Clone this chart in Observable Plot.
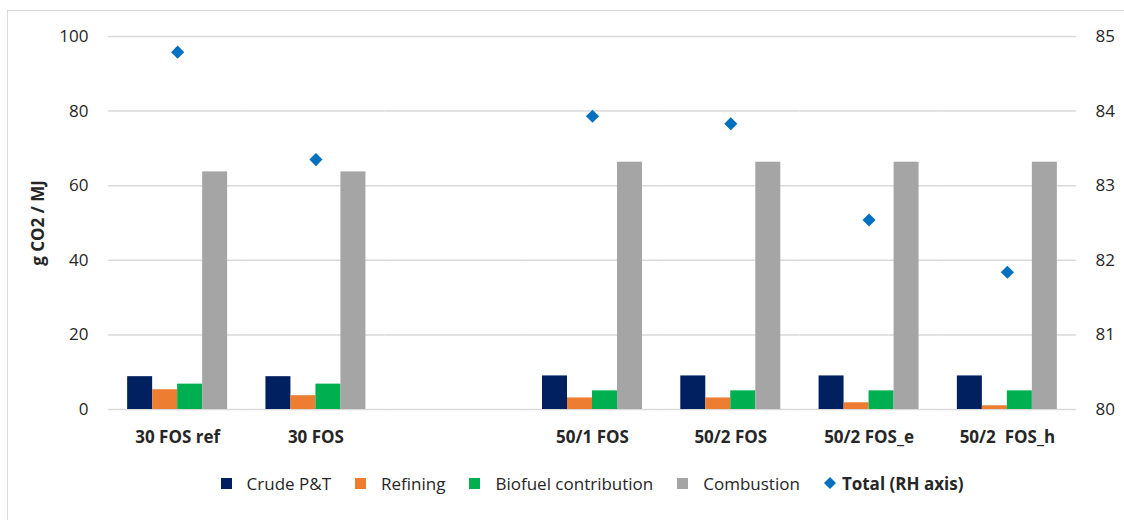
<!DOCTYPE html>
<html>
<head>
<meta charset="utf-8">
<script src="https://cdn.jsdelivr.net/npm/d3@7"></script>
<script src="https://cdn.jsdelivr.net/npm/@observablehq/plot@0.6"></script>
<style>
  body { margin: 0; background: #fff; font-family: "Open Sans", sans-serif; }
  #wrap { position: relative; width: 1124px; height: 520px; overflow: hidden; background: #fff; }
  #frame { position: absolute; left: 7px; top: 10px; width: 1300px; height: 700px;
           border-left: 1.5px solid #d9d9d9; border-top: 1.5px solid #d9d9d9; box-sizing: border-box; }
  #chart { position: absolute; left: 0; top: 0; }
  #chart svg text { white-space: pre; }
  #legend { position: absolute; left: 108px; width: 968px; top: 471px; height: 24px;
            display: flex; justify-content: center; align-items: center;
            font-size: 17px; color: #262626; font-family: "Open Sans", sans-serif; }
  .item { display: flex; align-items: center; margin: 0 12px; white-space: pre; }
  .sw { width: 11px; height: 11px; display: inline-block; margin-right: 15px; }
  .dia { margin-right: 6px; display: inline-block; }
</style>
</head>
<body>
<div id="wrap">
  <div id="frame"></div>
  <div id="chart"></div>
  <div id="legend"></div>
</div>
<script>
// ---- data ----
const categories = ["30 FOS ref", "30 FOS", "", "50/1 FOS", "50/2 FOS", "50/2 FOS_e", "50/2  FOS_h"];
const series = ["Crude P&T", "Refining", "Biofuel contribution", "Combustion"];
const crude      = [8.8, 8.8, null, 9.0, 9.0, 9.0, 9.0];
const refining   = [5.3, 3.7, null, 3.1, 3.1, 1.8, 1.0];
const biofuel    = [6.8, 6.8, null, 5.0, 5.0, 5.0, 5.0];
const combustion = [63.7, 63.7, null, 66.3, 66.3, 66.3, 66.3];
const total      = [84.79, 83.35, null, 83.93, 83.83, 82.54, 81.84];
const totalLabel = "Total (RH axis)";
const colors = ["#002060", "#ED7D31", "#00B050", "#A5A5A5"];
const totalColor = "#0070C0";
const leftTicks = [0, 20, 40, 60, 80, 100];
const rightTicks = [80, 81, 82, 83, 84, 85];
const yLabel = "g CO2 / MJ";

// ---- build tables ----
const seriesValues = [crude, refining, biofuel, combustion];
const bars = [];
categories.forEach((c, i) => {
  series.forEach((s, j) => {
    const v = seriesValues[j][i];
    if (v != null) bars.push({cat: c, series: s, value: v});
  });
});
const totals = categories.map((c, i) => ({cat: c, total: total[i]})).filter(d => d.total != null);
// grid rows per category so every facet (including the blank gap) gets gridlines
const gridRows = categories.flatMap(c => leftTicks.map(t => ({cat: c, tick: t})));

// right axis (80..85) mapped onto left scale (0..100)
const rMin = rightTicks[0], rMax = rightTicks[rightTicks.length - 1];
const lMin = leftTicks[0], lMax = leftTicks[leftTicks.length - 1];
const toLeft = v => lMin + (v - rMin) * (lMax - lMin) / (rMax - rMin);
const fromLeft = d => rMin + (d - lMin) * (rMax - rMin) / (lMax - lMin);

const chart = Plot.plot({
  width: 1124,
  height: 460,
  marginLeft: 108,
  marginRight: 48,
  marginTop: 36,
  marginBottom: 51,
  style: {fontFamily: "Open Sans, sans-serif", fontSize: "17px", color: "#262626", background: "transparent", overflow: "visible"},
  fx: {domain: categories, padding: 0, round: false, label: null},
  x: {domain: series, paddingInner: 0, paddingOuter: 0.766, round: false, axis: null},
  y: {domain: [lMin, lMax], label: null},
  color: {domain: series, range: colors},
  marks: [
    Plot.gridY(gridRows, {fx: "cat", y: "tick", stroke: "#d9d9d9", strokeOpacity: 1, strokeWidth: 1.5}),
    Plot.axisY(leftTicks, {anchor: "left", tickSize: 0, tickPadding: 20, label: null, facetAnchor: "left"}),
    Plot.axisY([], {anchor: "left", tickSize: 0, label: yLabel, labelAnchor: "center", labelArrow: "none", labelOffset: 77, fontWeight: "bold", facetAnchor: "left"}),
    Plot.axisY(rightTicks.map(toLeft), {anchor: "right", tickSize: 0, tickPadding: 19, tickFormat: d => String(fromLeft(d)), label: null, facetAnchor: "right"}),
    Plot.axisFx({anchor: "bottom", tickSize: 0, tickPadding: 21, fontWeight: "bold", label: null}),
    Plot.barY(bars, {fx: "cat", x: "series", y: "value", fill: "series"}),
    Plot.dot(totals, {fx: "cat", y: d => toLeft(d.total), symbol: "diamond2", r: 5.9, fill: totalColor, stroke: "none"})
  ]
});
document.getElementById("chart").appendChild(chart);

// ---- legend ----
const legend = document.getElementById("legend");
series.forEach((s, i) => {
  const it = document.createElement("div");
  it.className = "item";
  const sw = document.createElement("span");
  sw.className = "sw";
  sw.style.background = colors[i];
  const tx = document.createElement("span");
  tx.textContent = s;
  it.appendChild(sw); it.appendChild(tx);
  legend.appendChild(it);
});
{
  const it = document.createElement("div");
  it.className = "item";
  it.innerHTML = `<svg class="dia" width="12" height="12" viewBox="0 0 12 12"><polygon points="6,0 12,6 6,12 0,6" fill="${totalColor}"/></svg>`;
  const tx = document.createElement("b");
  tx.textContent = totalLabel;
  it.appendChild(tx);
  legend.appendChild(it);
}
</script>
</body>
</html>
